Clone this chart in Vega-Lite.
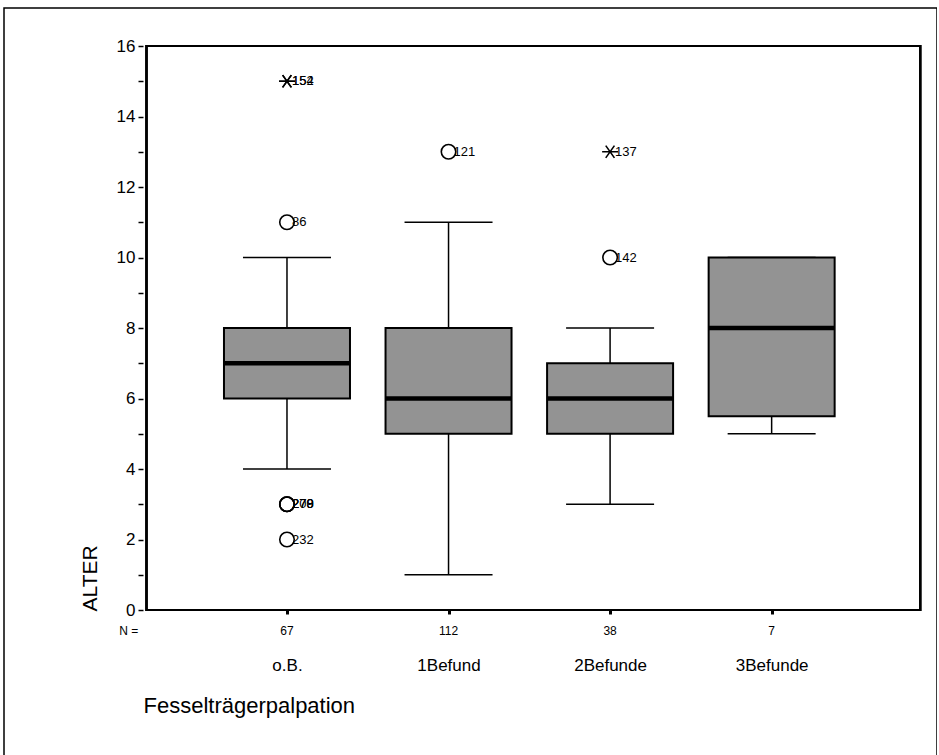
{
  "$schema": "https://vega.github.io/schema/vega-lite/v6.json",
  "autosize": "none",
  "width": 933,
  "height": 752,
  "padding": {"left": 4, "top": 8, "right": 0, "bottom": 0},
  "background": "white",
  "config": {
    "font": "Liberation Sans",
    "view": {"stroke": "black", "strokeWidth": 1.5}
  },
  "datasets": {
    "boxes": [
      {"code": 0, "gruppe": "o.B.", "n": 67, "lo": 4, "q1": 6, "med": 7, "q3": 8, "hi": 10},
      {"code": 1, "gruppe": "1Befund", "n": 112, "lo": 1, "q1": 5, "med": 6, "q3": 8, "hi": 11},
      {"code": 2, "gruppe": "2Befunde", "n": 38, "lo": 3, "q1": 5, "med": 6, "q3": 7, "hi": 8},
      {"code": 3, "gruppe": "3Befunde", "n": 7, "lo": 5, "q1": 5.5, "med": 8, "q3": 10, "hi": 10}
    ],
    "ausreisser": [
      {"code": 0, "alter": 15, "fall": "152", "typ": "Extremwert"},
      {"code": 0, "alter": 15, "fall": "154", "typ": "Extremwert"},
      {"code": 0, "alter": 11, "fall": "86", "typ": "Ausreißer"},
      {"code": 0, "alter": 3, "fall": "270", "typ": "Ausreißer"},
      {"code": 0, "alter": 3, "fall": "278", "typ": "Ausreißer"},
      {"code": 0, "alter": 3, "fall": "209", "typ": "Ausreißer"},
      {"code": 0, "alter": 2, "fall": "232", "typ": "Ausreißer"},
      {"code": 1, "alter": 13, "fall": "121", "typ": "Ausreißer"},
      {"code": 2, "alter": 13, "fall": "137", "typ": "Extremwert"},
      {"code": 2, "alter": 10, "fall": "142", "typ": "Ausreißer"}
    ]
  },
  "layer": [
    {
      "data": {"name": "boxes"},
      "mark": {"type": "rule", "stroke": "black", "strokeWidth": 1.5},
      "encoding": {
        "x": {
          "field": "code", "type": "quantitative",
          "scale": {"domain": [-1.7207, 3.9926], "nice": false, "zero": false},
          "axis": {
            "orient": "bottom", "offset": -150, "values": [0, 1, 2, 3],
            "labelExpr": "['o.B.', '1Befund', '2Befunde', '3Befunde'][datum.value]",
            "domain": false, "grid": false,
            "tickSize": 4, "tickWidth": 3, "tickColor": "black",
            "labelFontSize": 17, "labelColor": "black", "labelPadding": 43,
            "title": "Fesselträgerpalpation", "titleFontSize": 22, "titleFontWeight": "normal",
            "titleColor": "black", "titleAlign": "left", "titleAnchor": null,
            "titleX": 139, "titleY": 95, "titleBaseline": "middle"
          }
        },
        "y": {
          "field": "lo", "type": "quantitative",
          "scale": {"domain": [-4.255, 17.078], "nice": false, "zero": false},
          "axis": {
            "orient": "left", "offset": -139,
            "values": [0, 1, 2, 3, 4, 5, 6, 7, 8, 9, 10, 11, 12, 13, 14, 15, 16],
            "labelExpr": "datum.value % 2 == 0 ? datum.label : ''",
            "domain": false, "grid": false,
            "tickSize": 5, "tickWidth": 1.5, "tickColor": "black",
            "labelFontSize": 17, "labelColor": "black", "labelPadding": 3,
            "title": "ALTER", "titleFontSize": 21, "titleFontWeight": "normal",
            "titleColor": "black", "titleAngle": -90, "titleAlign": "left",
            "titleBaseline": "middle", "titleX": -53, "titleY": 603
          }
        },
        "y2": {"field": "q1"}
      }
    },
    {
      "data": {"name": "boxes"},
      "mark": {"type": "rule", "stroke": "black", "strokeWidth": 1.5},
      "encoding": {
        "x": {"field": "code", "type": "quantitative"},
        "y": {"field": "q3", "type": "quantitative"},
        "y2": {"field": "hi"}
      }
    },
    {
      "data": {"name": "boxes"},
      "transform": [{"fold": ["lo", "hi"], "as": ["ende", "wert"]}],
      "mark": {"type": "tick", "orient": "horizontal", "size": 88, "thickness": 1.5, "color": "black", "opacity": 1},
      "encoding": {
        "x": {"field": "code", "type": "quantitative"},
        "y": {"field": "wert", "type": "quantitative"}
      }
    },
    {
      "data": {"name": "boxes"},
      "mark": {"type": "bar", "width": 126, "fill": "#939393", "stroke": "black", "strokeWidth": 2},
      "encoding": {
        "x": {"field": "code", "type": "quantitative"},
        "y": {"field": "q1", "type": "quantitative"},
        "y2": {"field": "q3"}
      }
    },
    {
      "data": {"name": "boxes"},
      "mark": {"type": "tick", "orient": "horizontal", "size": 126, "thickness": 4.5, "color": "black", "opacity": 1},
      "encoding": {
        "x": {"field": "code", "type": "quantitative"},
        "y": {"field": "med", "type": "quantitative"}
      }
    },
    {
      "data": {"name": "boxes"},
      "mark": {"type": "rect", "fill": null, "stroke": "black", "strokeWidth": 2},
      "encoding": {
        "x": {"datum": -0.8696},
        "x2": {"datum": 3.92},
        "y": {"datum": 0},
        "y2": {"datum": 16}
      }
    },
    {
      "data": {"name": "ausreisser"},
      "mark": {"type": "point", "filled": false, "stroke": "black", "strokeWidth": 1.6, "size": 210, "opacity": 1},
      "encoding": {
        "x": {"field": "code", "type": "quantitative"},
        "y": {"field": "alter", "type": "quantitative"},
        "shape": {
          "field": "typ", "type": "nominal",
          "scale": {
            "domain": ["Ausreißer", "Extremwert"],
            "range": ["circle", "M-1.1,0L1.1,0M-0.6,-0.85L0.6,0.85M-0.6,0.85L0.6,-0.85"]
          },
          "legend": null
        }
      }
    },
    {
      "data": {"name": "ausreisser"},
      "mark": {"type": "text", "align": "left", "baseline": "middle", "dx": 5, "fontSize": 13, "color": "black"},
      "encoding": {
        "x": {"field": "code", "type": "quantitative"},
        "y": {"field": "alter", "type": "quantitative"},
        "text": {"field": "fall"}
      }
    },
    {
      "data": {"name": "boxes"},
      "mark": {"type": "text", "align": "center", "baseline": "middle", "dy": 21, "fontSize": 12, "color": "black"},
      "encoding": {
        "x": {"field": "code", "type": "quantitative"},
        "y": {"datum": 0},
        "text": {"field": "n"}
      }
    },
    {
      "data": {"values": [{"beschriftung": "N ="}]},
      "mark": {"type": "text", "align": "center", "baseline": "middle", "dy": 21, "fontSize": 12, "color": "black"},
      "encoding": {
        "x": {"datum": -0.98},
        "y": {"datum": 0},
        "text": {"field": "beschriftung"}
      }
    }
  ]
}
